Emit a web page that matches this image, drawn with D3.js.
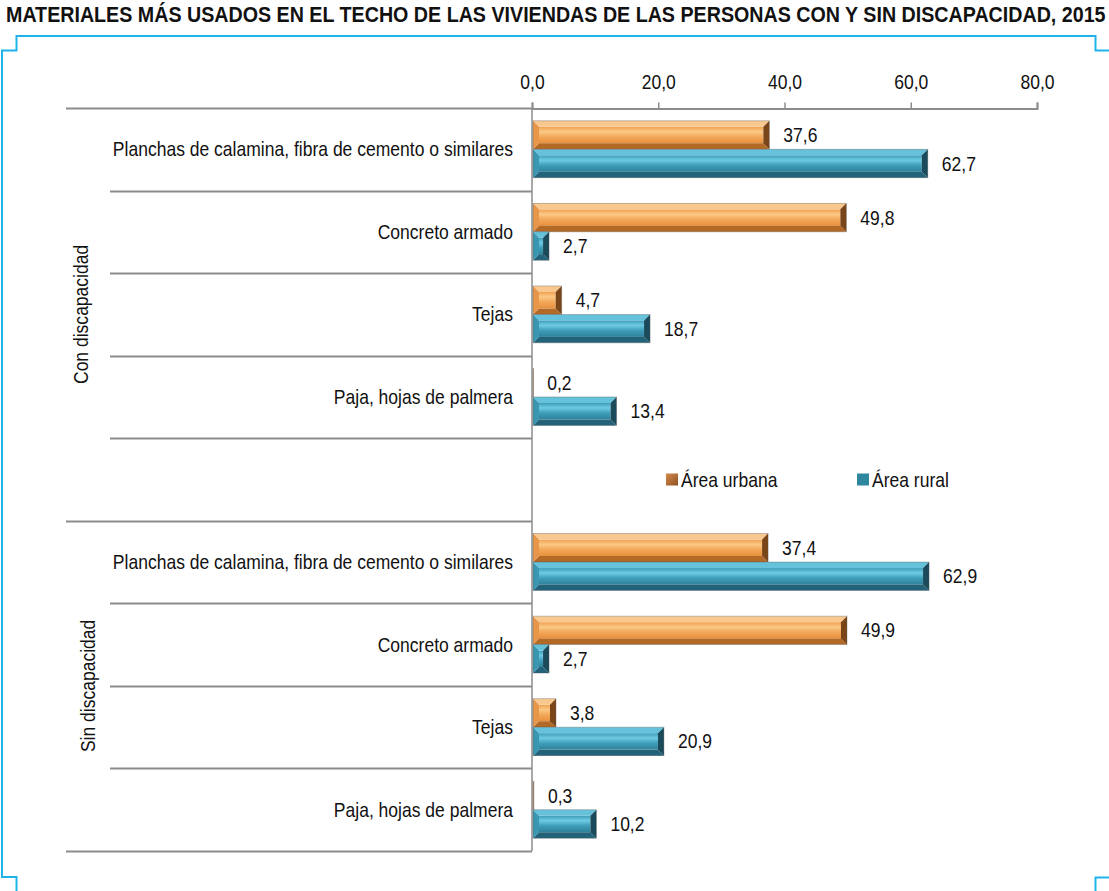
<!DOCTYPE html>
<html><head><meta charset="utf-8">
<script src="https://cdn.jsdelivr.net/npm/d3@7"></script>
<style>
body{margin:0;background:#fff;}
text{font-family:"Liberation Sans",Arial,sans-serif;fill:#111;}
</style></head>
<body>
<svg id="c" width="1109" height="891"></svg>
<script>
const title = "MATERIALES MÁS USADOS EN EL TECHO DE LAS VIVIENDAS DE LAS PERSONAS CON Y SIN DISCAPACIDAD, 2015";
const groups = ["Con discapacidad", "Sin discapacidad"];
const materials = ["Planchas de calamina, fibra de cemento o similares", "Concreto armado", "Tejas", "Paja, hojas de palmera"];
const series = ["Área urbana", "Área rural"];
const urbanCon = [37.6, 49.8, 4.7, 0.2];
const ruralCon = [62.7, 2.7, 18.7, 13.4];
const urbanSin = [37.4, 49.9, 3.8, 0.3];
const ruralSin = [62.9, 2.7, 20.9, 10.2];
const tickValues = [0, 20, 40, 60, 80];

const svg = d3.select("#c");
const FS = 20, SX = 0.876;
const fmt = v => d3.format(".1f")(v).replace(".", ",");

const rows = [];
materials.forEach((m, i) => rows.push({key: "con" + i, group: 0, label: m, vals: [urbanCon[i], ruralCon[i]]}));
rows.push({key: "blank", group: 0, label: "", vals: null});
materials.forEach((m, i) => rows.push({key: "sin" + i, group: 1, label: m, vals: [urbanSin[i], ruralSin[i]]}));

const x = d3.scaleLinear().domain([0, 80]).range([532, 1037]);
const y = d3.scaleBand().domain(rows.map(r => r.key)).range([108, 851]).padding(0);
const ys = d3.scaleBand().domain([0, 1]).range([0, y.bandwidth()]).paddingInner(0).paddingOuter(0.45);

const defs = svg.append("defs");
const pal = [
  {top:"#f9c88e", bot:"#b36a27", left:"#e8964a", right:"#7a4518", f:["#f0a050","#fbc985","#f3a85a","#e8903c"]},
  {top:"#66c2da", bot:"#22637a", left:"#3b96b0", right:"#1b4b5b", f:["#3c9cb8","#6fcbe3","#3f9fbb","#2f8199"]}
];
pal.forEach((p, i) => {
  const g = defs.append("linearGradient").attr("id", "face" + i).attr("x1", 0).attr("y1", 0).attr("x2", 0).attr("y2", 1);
  [[0, p.f[0]], [0.3, p.f[1]], [0.6, p.f[2]], [1, p.f[3]]].forEach(s => g.append("stop").attr("offset", s[0]).attr("stop-color", s[1]));
});
const lg = defs.append("linearGradient").attr("id", "legU").attr("x1", 0).attr("y1", 0).attr("x2", 1).attr("y2", 1);
lg.append("stop").attr("offset", 0).attr("stop-color", "#d4894a");
lg.append("stop").attr("offset", 1).attr("stop-color", "#8f5224");

// Title (condensed to fit)
const tt = svg.append("text").attr("font-size", 22).attr("font-weight", "bold").text(title);
const nat = tt.node().getComputedTextLength();
tt.attr("transform", `translate(6,22) scale(${1100 / nat},1)`);

// Frame
const fc = "#1fb3ea";
const frame = svg.append("g").attr("fill", "none").attr("stroke", fc).attr("stroke-width", 2);
frame.append("path").attr("d", "M2,878 L2,50.5 L16.5,50.5 L16.5,36 L1095.5,36 L1095.5,50.5 L1109,50.5");
frame.append("path").attr("d", "M2,877 L16.5,877 L16.5,891");
frame.append("path").attr("d", "M1109,877.5 L1095.5,877.5 L1095.5,891");

const axisColor = "#8c8c8c";

const bounds = [];
rows.forEach((r, i) => {
  bounds.push({y: y(r.key), full: i === 0 || rows[i - 1].group !== r.group});
});
bounds.push({y: y.range()[1], full: true});
svg.append("g").selectAll("line").data(bounds).join("line")
  .attr("x1", d => d.full ? 66 : 110).attr("x2", x(0))
  .attr("y1", d => Math.round(d.y) + 0.5).attr("y2", d => Math.round(d.y) + 0.5)
  .attr("stroke", axisColor).attr("stroke-width", 2);

svg.append("line").attr("x1", x(0)).attr("x2", x(0)).attr("y1", 108).attr("y2", 851)
  .attr("stroke", axisColor).attr("stroke-width", 1.5);

const ax = svg.append("g").attr("transform", "translate(0,108.5)")
  .call(d3.axisTop(x).tickValues(tickValues).tickSize(6).tickSizeOuter(6).tickFormat(fmt));
ax.select(".domain").attr("stroke", axisColor).attr("stroke-width", 2);
ax.selectAll(".tick line").attr("stroke", axisColor).attr("stroke-width", 1.5);
ax.selectAll(".tick text").attr("font-size", FS).attr("fill", "#111").attr("y", null).attr("dy", null)
  .attr("transform", `translate(0,-20) scale(${SX},1)`)
  .style("font-family", "'Liberation Sans',Arial,sans-serif");

// Category labels
svg.append("g").selectAll("text").data(rows.filter(r => r.vals)).join("text")
  .attr("transform", d => `translate(513,${y(d.key) + y.bandwidth() / 2}) scale(${SX},1)`).attr("dy", "0.35em")
  .attr("text-anchor", "end").attr("font-size", FS).text(d => d.label);

// Group labels
const gpos = [[81, (y("con0") + y("blank") + y.bandwidth()) / 2], [88, (y("sin0") + y.range()[1]) / 2]];
svg.append("g").selectAll("text").data(groups).join("text")
  .attr("transform", (d, i) => `translate(${gpos[i][0]},${gpos[i][1]}) rotate(-90) scale(${SX},1)`)
  .attr("text-anchor", "middle").attr("dy", "0.35em").attr("font-size", FS).text(d => d);

// Bars
const barData = [];
rows.filter(r => r.vals).forEach(r => r.vals.forEach((v, s) => barData.push({key: r.key, s, v})));
const bars = svg.append("g").selectAll("g").data(barData).join("g");
bars.each(function(d) {
  const g = d3.select(this);
  const x0 = x(0) + 1, x1 = x(d.v);
  const y0 = y(d.key) + ys(d.s), y1 = y0 + ys.bandwidth();
  const w = Math.max(x1 - x0, 0.6);
  const b = Math.min(6, w / 2);
  const p = pal[d.s];
  const xe = x0 + w;
  g.append("rect").attr("x", x0 + b).attr("y", y0 + b).attr("width", Math.max(w - 2 * b, 0)).attr("height", y1 - y0 - 2 * b).attr("fill", `url(#face${d.s})`);
  const poly = (pts, c) => g.append("polygon").attr("points", pts.map(q => q.join(",")).join(" ")).attr("fill", c);
  poly([[x0, y0], [xe, y0], [xe - b, y0 + b], [x0 + b, y0 + b]], p.top);
  poly([[x0, y1], [xe, y1], [xe - b, y1 - b], [x0 + b, y1 - b]], p.bot);
  poly([[x0, y0], [x0 + b, y0 + b], [x0 + b, y1 - b], [x0, y1]], p.left);
  poly([[xe, y0], [xe - b, y0 + b], [xe - b, y1 - b], [xe, y1]], p.right);
  g.append("rect").attr("x", x0).attr("y", y0).attr("width", w).attr("height", y1 - y0)
    .attr("fill", "none").attr("stroke", "rgba(90,90,90,0.45)").attr("stroke-width", 0.8);
});

// Value labels
svg.append("g").selectAll("text").data(barData).join("text")
  .attr("transform", d => `translate(${x(d.v) + 14},${y(d.key) + ys(d.s) + ys.bandwidth() / 2}) scale(${SX},1)`)
  .attr("dy", "0.35em").attr("font-size", FS).text(d => fmt(d.v));

// Legend
const ly = y("blank") + y.bandwidth() / 2;
const legX = [666, 857];
const leg = svg.append("g").selectAll("g").data(series).join("g")
  .attr("transform", (d, i) => `translate(${legX[i]},${ly})`);
leg.append("rect").attr("x", 0).attr("y", -6).attr("width", 12).attr("height", 12)
  .attr("fill", (d, i) => i === 0 ? "url(#legU)" : "#2e879e");
leg.append("text").attr("transform", `translate(15,0) scale(${SX},1)`).attr("dy", "0.35em").attr("font-size", FS).text(d => d);
</script>
</body></html>
